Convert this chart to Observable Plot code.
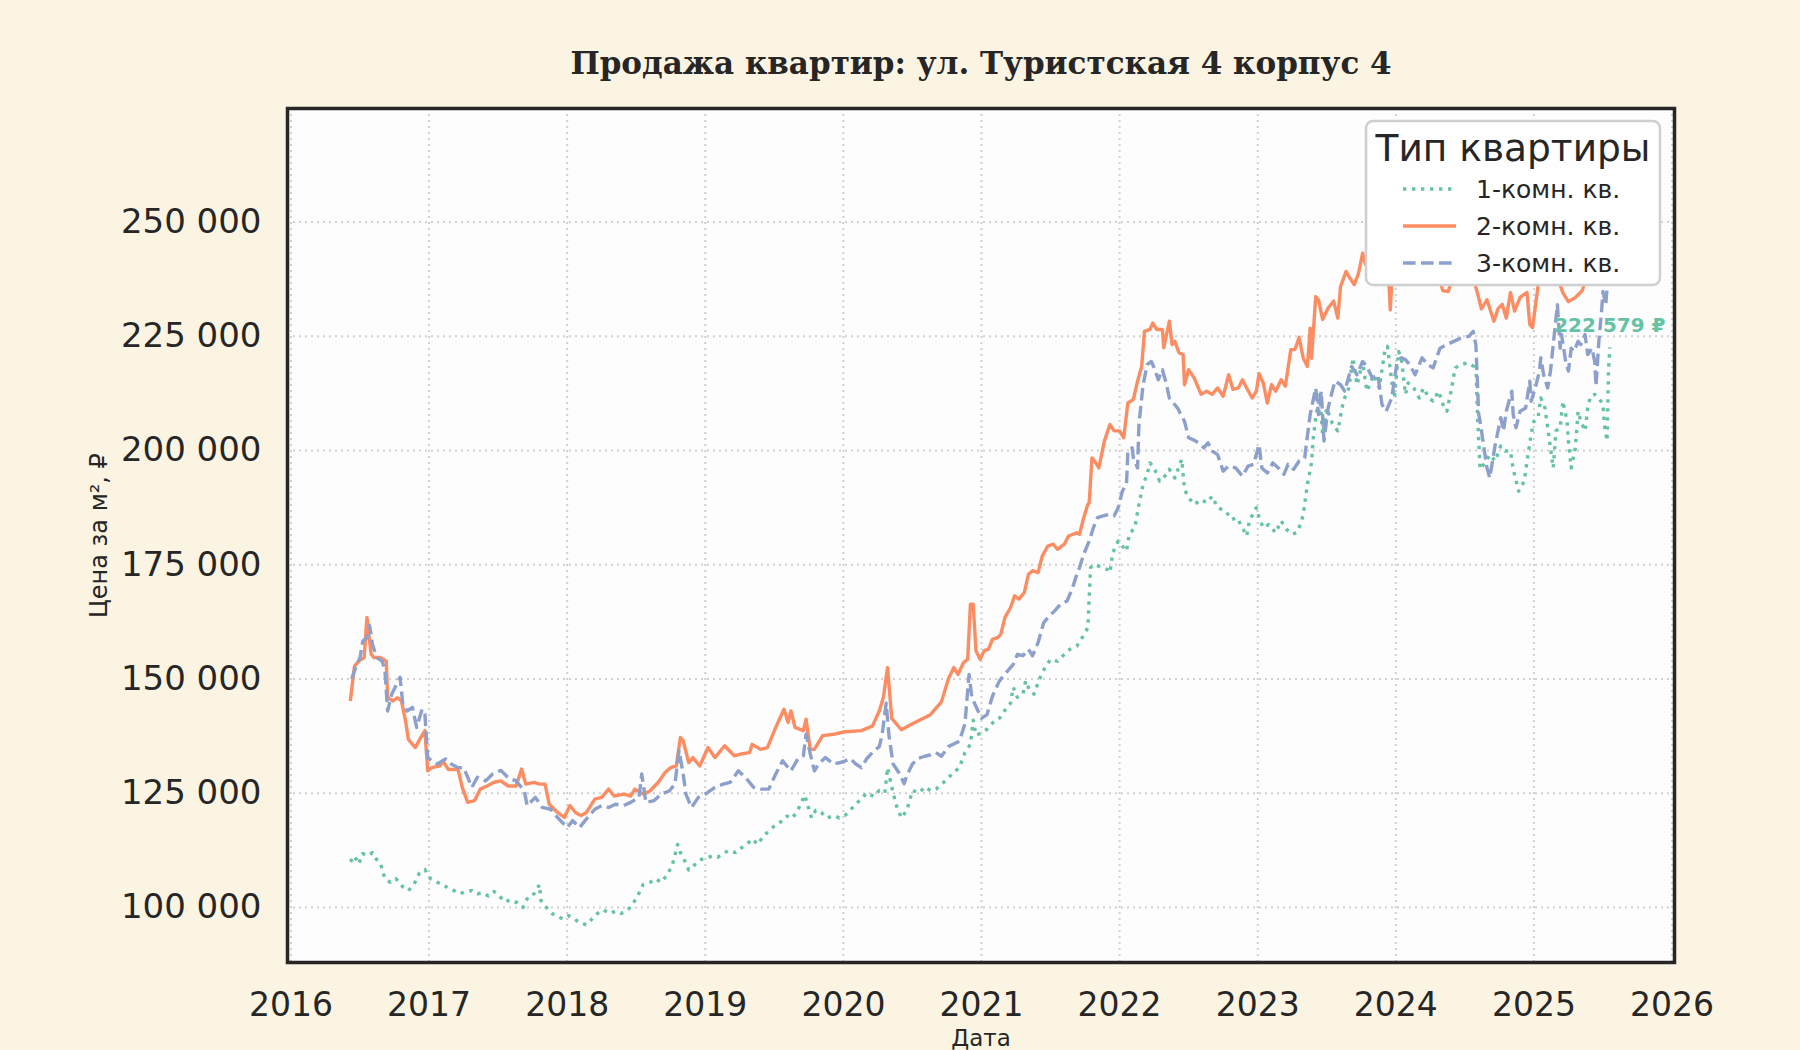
<!DOCTYPE html>
<html><head><meta charset="utf-8">
<script src="https://cdn.jsdelivr.net/npm/d3@7"></script>
<script src="https://cdn.jsdelivr.net/npm/@observablehq/plot@0.6"></script>
<style>
html,body{margin:0;padding:0;background:#fbf4e2;}
#wrap{position:relative;width:1800px;height:1050px;background:#fbf4e2;overflow:hidden;}
</style></head>
<body><div id="wrap"></div>
<script>
const chartTitle = "Продажа квартир: ул. Туристская 4 корпус 4";
const xLabel = "Дата";
const yLabel = "Цена за м², ₽";
const legendTitle = "Тип квартиры";
const seriesNames = ["1-комн. кв.", "2-комн. кв.", "3-комн. кв."];
const seriesColors = ["#66c2a5", "#fc8d62", "#8da0cb"];
const seriesDash = ["3.4,5.6", "none", "12.6,5.4"];
const xTicks = [2016, 2017, 2018, 2019, 2020, 2021, 2022, 2023, 2024, 2025, 2026];
const yTicks = [100000, 125000, 150000, 175000, 200000, 225000, 250000];
const lastLabel = "222 579 ₽";

// 1-комн. кв.
const years1 = [2016.43,2016.46,2016.49,2016.52,2016.56,2016.59,2016.62,2016.65,2016.68,2016.72,2016.76,2016.81,2016.85,2016.89,2016.93,2016.97,2017.01,2017.06,2017.10,2017.14,2017.18,2017.22,2017.27,2017.31,2017.35,2017.39,2017.43,2017.47,2017.51,2017.55,2017.59,2017.64,2017.68,2017.72,2017.76,2017.80,2017.81,2017.85,2017.89,2017.93,2017.97,2018.01,2018.05,2018.09,2018.14,2018.18,2018.22,2018.26,2018.31,2018.35,2018.39,2018.43,2018.47,2018.51,2018.55,2018.60,2018.64,2018.68,2018.72,2018.76,2018.80,2018.82,2018.86,2018.88,2018.93,2018.97,2019.01,2019.05,2019.09,2019.13,2019.17,2019.22,2019.26,2019.30,2019.34,2019.38,2019.42,2019.47,2019.51,2019.55,2019.59,2019.63,2019.67,2019.72,2019.74,2019.77,2019.80,2019.84,2019.88,2019.93,2019.97,2020.01,2020.05,2020.09,2020.13,2020.17,2020.22,2020.26,2020.30,2020.32,2020.35,2020.38,2020.42,2020.46,2020.50,2020.55,2020.59,2020.63,2020.67,2020.71,2020.75,2020.80,2020.84,2020.88,2020.92,2020.94,2020.96,2021.00,2021.04,2021.09,2021.13,2021.17,2021.21,2021.23,2021.26,2021.30,2021.32,2021.35,2021.38,2021.42,2021.46,2021.50,2021.55,2021.60,2021.64,2021.69,2021.73,2021.77,2021.78,2021.79,2021.82,2021.87,2021.91,2021.93,2021.95,2021.99,2022.02,2022.05,2022.07,2022.11,2022.14,2022.17,2022.20,2022.22,2022.25,2022.29,2022.34,2022.36,2022.40,2022.45,2022.47,2022.50,2022.54,2022.59,2022.63,2022.67,2022.71,2022.77,2022.81,2022.85,2022.89,2022.92,2022.94,2022.99,2023.01,2023.04,2023.08,2023.13,2023.17,2023.21,2023.25,2023.28,2023.31,2023.33,2023.36,2023.39,2023.40,2023.42,2023.45,2023.47,2023.50,2023.54,2023.58,2023.62,2023.66,2023.69,2023.72,2023.76,2023.79,2023.84,2023.88,2023.92,2023.94,2023.97,2023.99,2024.02,2024.04,2024.07,2024.09,2024.13,2024.17,2024.20,2024.24,2024.27,2024.31,2024.35,2024.37,2024.40,2024.43,2024.47,2024.52,2024.56,2024.58,2024.59,2024.61,2024.65,2024.68,2024.72,2024.76,2024.79,2024.83,2024.85,2024.89,2024.93,2024.95,2024.98,2025.00,2025.03,2025.05,2025.08,2025.10,2025.12,2025.14,2025.16,2025.19,2025.21,2025.24,2025.25,2025.27,2025.30,2025.32,2025.34,2025.37,2025.39,2025.41,2025.44,2025.47,2025.50,2025.51,2025.53,2025.54,2025.55];
const price1 = [110000,111300,109500,111800,111300,112000,110500,109500,106300,105500,106300,104500,103700,105000,107500,108300,106300,105500,105000,104200,103700,103000,103500,103700,103000,103200,102500,103500,102500,101200,101700,101000,100000,102500,103000,105000,101500,100000,98700,98000,97500,98200,97500,96700,96200,97500,98700,99500,98700,99200,98700,99200,100500,102500,105000,105500,106300,105500,107000,109100,113800,112000,109700,108200,109500,110500,110800,111300,111000,111800,112500,112000,113000,113800,115000,113800,115600,117000,118100,118800,120000,119500,121300,124600,122600,119600,121300,120800,119600,120100,119600,120100,121300,122600,123800,125100,124300,125600,125100,130600,126400,122600,119600,121300,125600,125100,126400,125600,125900,126900,128100,129600,130600,133900,135700,141000,137700,138200,139000,140700,141400,143200,144700,148200,146000,146700,149600,147400,146700,150000,152500,154300,153900,155400,156500,157200,159100,161200,167800,174400,175100,174400,174000,173300,177600,180200,179100,178000,181700,183100,188200,192600,194800,197300,196200,193300,194800,195900,194000,198100,191500,189700,188200,189300,188600,190000,187500,186700,184900,185300,183100,181300,184600,187500,185300,183100,183800,182000,184600,182700,181700,182000,183800,186000,192600,197300,202100,207200,212300,203500,209300,206000,204300,210800,213700,220300,214400,219500,213000,216600,213700,221700,222800,215200,211500,221700,220300,212300,214800,213700,211500,213700,211500,210800,213000,209300,208600,213000,218100,218800,219200,218500,219300,209000,195900,197500,199100,197700,201000,199900,199900,195900,191100,193300,197700,203500,206400,207200,211500,209300,205000,200600,196200,204300,205000,210800,206400,202100,196200,200600,208600,206400,204300,209300,211900,212300,211500,210100,205700,202100,217400,222579];

// 2-комн. кв.
const years2 = [2016.43,2016.46,2016.49,2016.53,2016.55,2016.58,2016.60,2016.65,2016.69,2016.70,2016.74,2016.77,2016.80,2016.83,2016.85,2016.90,2016.94,2016.97,2016.99,2017.02,2017.08,2017.10,2017.14,2017.21,2017.24,2017.28,2017.33,2017.37,2017.42,2017.47,2017.52,2017.57,2017.63,2017.67,2017.70,2017.76,2017.80,2017.84,2017.87,2017.93,2017.98,2018.02,2018.06,2018.10,2018.14,2018.20,2018.25,2018.30,2018.34,2018.41,2018.46,2018.49,2018.55,2018.60,2018.66,2018.71,2018.75,2018.79,2018.82,2018.84,2018.88,2018.91,2018.96,2019.02,2019.07,2019.14,2019.21,2019.26,2019.32,2019.34,2019.40,2019.45,2019.51,2019.57,2019.60,2019.62,2019.65,2019.71,2019.73,2019.76,2019.79,2019.85,2019.93,2020.00,2020.13,2020.21,2020.26,2020.29,2020.32,2020.35,2020.42,2020.50,2020.63,2020.71,2020.76,2020.80,2020.83,2020.87,2020.90,2020.92,2020.94,2020.96,2020.99,2021.02,2021.05,2021.08,2021.12,2021.14,2021.17,2021.21,2021.24,2021.27,2021.31,2021.34,2021.37,2021.41,2021.44,2021.48,2021.52,2021.55,2021.60,2021.63,2021.69,2021.71,2021.74,2021.77,2021.78,2021.80,2021.82,2021.85,2021.87,2021.89,2021.93,2021.96,2022.00,2022.03,2022.06,2022.10,2022.13,2022.16,2022.18,2022.22,2022.24,2022.27,2022.31,2022.32,2022.36,2022.38,2022.40,2022.43,2022.46,2022.47,2022.50,2022.54,2022.59,2022.63,2022.67,2022.71,2022.75,2022.79,2022.82,2022.86,2022.89,2022.92,2022.96,2022.99,2023.01,2023.04,2023.07,2023.10,2023.13,2023.17,2023.20,2023.24,2023.27,2023.30,2023.33,2023.36,2023.38,2023.39,2023.42,2023.44,2023.47,2023.51,2023.55,2023.58,2023.60,2023.64,2023.66,2023.70,2023.73,2023.76,2023.78,2023.82,2023.86,2023.90,2023.94,2023.96,2023.98,2024.02,2024.08,2024.14,2024.20,2024.26,2024.31,2024.34,2024.38,2024.42,2024.48,2024.54,2024.59,2024.62,2024.66,2024.71,2024.74,2024.77,2024.80,2024.83,2024.86,2024.90,2024.95,2024.97,2024.99,2025.03,2025.07,2025.12,2025.17,2025.21,2025.25,2025.30,2025.35,2025.40,2025.45,2025.50,2025.53];
const price2 = [145200,152800,153900,154700,163500,155500,154700,154700,153900,145900,145200,145900,145200,140800,136800,135000,137200,138700,129900,130600,131000,132100,130200,130200,126300,123000,123400,125900,126600,127400,127700,126600,126600,130300,127000,127400,127000,127000,122600,120800,119700,122300,120800,120100,120800,123700,124100,125900,124400,124800,124400,125900,124800,125500,127400,129600,130600,131000,137200,136500,131700,132800,131000,135000,132800,135400,133200,133600,133900,135700,134600,135000,139400,143400,140500,143000,139400,138700,141200,134600,134600,137600,137900,138400,138700,139700,143000,146000,152500,141400,138900,140200,142200,145000,150000,152500,151000,153600,154300,166400,166400,156200,154300,156200,156500,158700,159100,159800,163500,165600,168200,167500,168900,172900,173700,173300,176900,179100,179500,178400,179500,181300,182000,181700,185300,188200,188600,198400,197700,196200,199200,202100,205700,204300,204300,202800,210400,211200,215200,218400,226100,226500,227900,226500,226500,222500,228300,223200,223900,221400,221000,214400,217700,215900,212300,213000,212300,213700,211900,216600,213400,213700,215500,213700,211500,213000,216800,214800,210400,214400,213000,215500,214100,222100,222100,224800,220200,218400,226800,220200,233700,233000,228700,231200,232700,229000,235900,239200,238100,236300,238800,243200,240700,242000,244500,241000,243000,230800,241500,244000,241000,243500,240500,242000,238500,235000,234800,239000,242500,240000,234600,231000,233000,228300,231000,232000,229000,234600,230500,233500,234600,227600,226900,236000,239000,241500,238000,234500,232600,233500,235000,240000,242500,239500,241000];

// 3-комн. кв.
const years3 = [2016.44,2016.46,2016.50,2016.52,2016.55,2016.57,2016.59,2016.62,2016.66,2016.68,2016.70,2016.73,2016.76,2016.79,2016.81,2016.84,2016.88,2016.91,2016.95,2016.97,2016.99,2017.02,2017.06,2017.12,2017.16,2017.21,2017.25,2017.28,2017.31,2017.35,2017.41,2017.46,2017.52,2017.57,2017.63,2017.69,2017.71,2017.77,2017.82,2017.88,2017.93,2018.00,2018.04,2018.09,2018.14,2018.20,2018.25,2018.30,2018.35,2018.41,2018.46,2018.52,2018.54,2018.57,2018.63,2018.68,2018.74,2018.78,2018.81,2018.84,2018.86,2018.90,2018.95,2019.00,2019.07,2019.13,2019.18,2019.24,2019.29,2019.35,2019.40,2019.46,2019.51,2019.56,2019.60,2019.62,2019.67,2019.71,2019.73,2019.76,2019.79,2019.82,2019.87,2019.93,2020.00,2020.05,2020.09,2020.13,2020.17,2020.21,2020.26,2020.28,2020.31,2020.33,2020.36,2020.40,2020.44,2020.46,2020.50,2020.54,2020.59,2020.63,2020.67,2020.71,2020.76,2020.84,2020.88,2020.91,2020.93,2020.96,2021.00,2021.04,2021.08,2021.13,2021.19,2021.23,2021.26,2021.30,2021.34,2021.37,2021.41,2021.45,2021.49,2021.53,2021.57,2021.62,2021.66,2021.69,2021.71,2021.74,2021.78,2021.81,2021.84,2021.88,2021.92,2021.96,2021.99,2022.02,2022.05,2022.06,2022.09,2022.10,2022.13,2022.14,2022.17,2022.20,2022.23,2022.25,2022.28,2022.31,2022.34,2022.36,2022.39,2022.42,2022.45,2022.47,2022.50,2022.53,2022.57,2022.61,2022.64,2022.67,2022.71,2022.75,2022.79,2022.84,2022.89,2022.93,2022.97,2023.01,2023.03,2023.07,2023.11,2023.15,2023.19,2023.22,2023.26,2023.30,2023.34,2023.36,2023.38,2023.39,2023.42,2023.44,2023.46,2023.48,2023.51,2023.54,2023.56,2023.60,2023.63,2023.68,2023.72,2023.76,2023.79,2023.83,2023.87,2023.90,2023.93,2023.97,2024.01,2024.04,2024.07,2024.10,2024.14,2024.19,2024.23,2024.27,2024.32,2024.37,2024.42,2024.47,2024.53,2024.56,2024.58,2024.60,2024.61,2024.66,2024.68,2024.72,2024.76,2024.78,2024.80,2024.84,2024.85,2024.87,2024.90,2024.94,2024.97,2024.98,2025.01,2025.04,2025.05,2025.07,2025.10,2025.12,2025.17,2025.19,2025.20,2025.23,2025.25,2025.27,2025.29,2025.32,2025.34,2025.37,2025.39,2025.42,2025.44,2025.45,2025.47,2025.49,2025.50,2025.52,2025.53];
const price3 = [150000,151800,154700,158300,159000,161700,157600,154700,153900,152100,143000,146700,148500,150400,144500,143000,143800,139400,143400,142300,132800,132100,131400,132500,131400,130600,130600,128500,126300,128500,127700,129200,130000,128500,127700,125500,122300,124100,121900,121500,119700,117500,119000,117500,119400,121500,122300,121900,122600,122300,123000,124100,129200,123000,123400,124800,125500,127000,134300,129200,124800,121900,124100,124800,126300,127000,127400,129900,128500,126300,125900,125900,129200,132100,130600,129900,132500,133200,137900,133600,129900,131400,132800,131400,131900,132600,131400,130600,132600,133900,135200,137700,144700,137700,131400,129600,127100,128900,131400,132600,133100,133400,133900,133100,135200,136400,140200,151000,146000,144000,141400,142200,146300,149600,151800,153200,155400,155100,156500,155100,158000,162300,163800,164900,166300,167100,170000,172900,174400,177300,180200,183100,185300,185700,186000,185700,187500,191100,192600,199900,200600,198400,196200,205700,214400,218800,219500,218100,215500,217700,214400,211500,210400,209300,207500,206400,202800,202400,201700,200600,201700,199900,199100,195500,196600,196200,194400,196600,197000,201300,196200,195100,197300,196200,194800,197000,195900,197700,198400,203200,207900,209300,213700,207900,213000,202100,209300,213000,215200,214400,213000,218400,216600,219500,218400,215900,216600,210100,208600,211500,219500,220300,219900,218800,216600,220300,218800,218100,222400,223200,223900,224600,225000,226100,223100,208000,206400,196200,194000,201300,207200,204300,208600,213000,207900,205000,208600,209300,215200,210800,213700,217400,220300,216600,213700,217400,231900,222400,225400,219500,217400,222400,221700,223900,223200,225400,221000,222400,219500,214100,223900,230500,234800,231900,235600];

const yearsList = [years1, years2, years3];
const priceList = [price1, price2, price3];
const seriesRows = yearsList.map((ys, s) => ys.map((x, i) => ({x, y: priceList[s][i], series: seriesNames[s]})));
const lastRow = seriesRows[0][seriesRows[0].length - 1];

const fmtThousands = d => d3.format(",")(d).replace(/,/g, " ");
const tickFont = "DejaVu Sans";

const lineMarks = seriesRows.map((rows, s) => Plot.line(rows, {
  x: "x", y: "y", stroke: seriesColors[s], strokeWidth: 3.4,
  strokeDasharray: seriesDash[s] === "none" ? null : seriesDash[s],
  strokeLinecap: "butt", strokeLinejoin: "round", curve: "linear"
}));

const chart = Plot.plot({
  width: 1800,
  height: 1050,
  marginLeft: 287,
  marginRight: 126,
  marginTop: 108,
  marginBottom: 88,
  style: {background: "#fbf4e2", fontFamily: tickFont, color: "#262626", overflow: "visible"},
  x: {type: "linear", domain: [2015.975, 2026.018]},
  y: {type: "linear", domain: [87960, 274860]},
  marks: [
    Plot.frame({fill: "#fdfdfd", stroke: null}),
    Plot.gridX(xTicks, {stroke: "#d0d0d0", strokeOpacity: 1, strokeWidth: 2, strokeDasharray: "2,4"}),
    Plot.gridY(yTicks, {stroke: "#d0d0d0", strokeOpacity: 1, strokeWidth: 2, strokeDasharray: "2,4"}),
    ...lineMarks,
    Plot.text([lastRow], {x: "x", y: "y", text: () => lastLabel, dy: -22, fill: seriesColors[0],
      fontSize: 20, fontWeight: "bold", textAnchor: "middle", fontFamily: tickFont}),
    Plot.frame({stroke: "#262626", strokeWidth: 3.5}),
    Plot.axisX(xTicks, {tickSize: 0, tickPadding: 30, fontSize: 33, tickFormat: d => String(d), label: null, fontFamily: tickFont}),
    Plot.axisY(yTicks, {tickSize: 0, tickPadding: 26, fontSize: 34, tickFormat: fmtThousands, label: null, fontFamily: tickFont}),
    Plot.text([yLabel], {frameAnchor: "left", dx: -188, rotate: -90, text: d => d, textAnchor: "middle", lineAnchor: "middle", fontSize: 24, fontFamily: tickFont}),
    Plot.text([xLabel], {frameAnchor: "bottom", dy: 76, text: d => d, textAnchor: "middle", lineAnchor: "middle", fontSize: 23, fontFamily: tickFont}),
    Plot.text([chartTitle], {frameAnchor: "top", dy: -44, text: d => d, textAnchor: "middle", lineAnchor: "middle", fontSize: 31, fontWeight: "bold", fontFamily: "DejaVu Serif", fill: "#262626"})
  ]
});
document.getElementById("wrap").appendChild(chart);

// legend (drawn with d3 over the chart)
const leg = d3.select("#wrap").append("svg")
  .attr("width", 300).attr("height", 170)
  .style("position", "absolute").style("left", "1364px").style("top", "119px")
  .style("font-family", tickFont);
leg.append("rect").attr("x", 2).attr("y", 2).attr("width", 294).attr("height", 164).attr("rx", 7)
  .attr("fill", "#fefefe").attr("stroke", "#cfcfcf").attr("stroke-width", 2.5);
leg.append("text").attr("x", 149).attr("y", 29).attr("text-anchor", "middle").attr("dominant-baseline", "central")
  .attr("font-size", 37.5).attr("fill", "#262626").text(legendTitle);
seriesNames.forEach((name, i) => {
  const y = 70 + i * 37;
  leg.append("line").attr("x1", 39).attr("x2", 92).attr("y1", y).attr("y2", y)
    .attr("stroke", seriesColors[i]).attr("stroke-width", 3.4)
    .attr("stroke-dasharray", seriesDash[i] === "none" ? null : seriesDash[i]);
  leg.append("text").attr("x", 112).attr("y", y).attr("dominant-baseline", "central")
    .attr("font-size", 25).attr("fill", "#262626").text(name);
});
</script>
</body></html>
